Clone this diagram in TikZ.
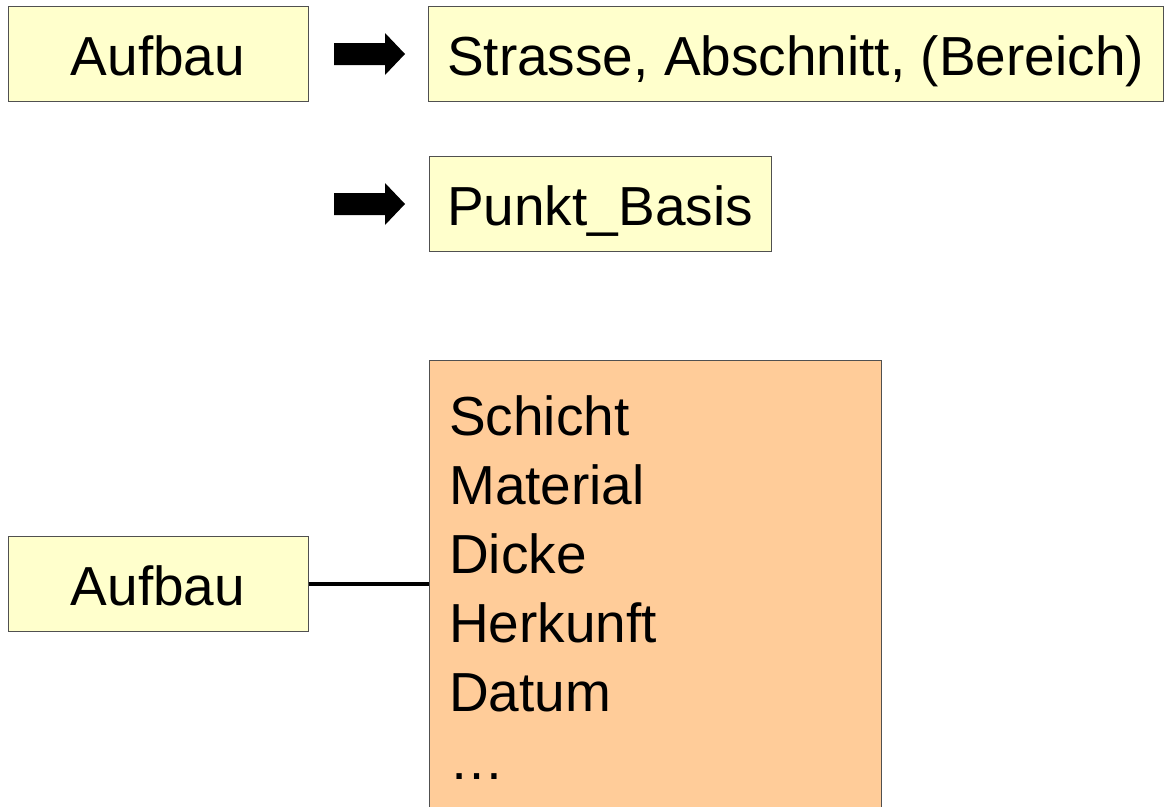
\documentclass[tikz,border=0pt]{standalone}
\usepackage{fontspec}
\setmainfont{Liberation Sans}
\definecolor{boxyellow}{HTML}{FFFFCC}
\definecolor{boxorange}{HTML}{FFCC99}
\definecolor{boxline}{HTML}{505050}
\begin{document}
\begin{tikzpicture}[x=1pt,y=-1pt,
  bigtext/.style={font=\fontsize{55}{70}\selectfont},
  ybox/.style={draw=boxline, line width=1pt, fill=boxyellow, rectangle, inner sep=0pt, bigtext, text height=43pt, text depth=0pt},
  fatarrow/.style={fill=black},
  listline/.style={bigtext, anchor=base west, inner sep=0pt}]
\useasboundingbox (0,0) rectangle (1166,806);
% top row
\node[ybox, minimum width=300pt, minimum height=95pt] (aufbau1) at (158,53.5) {Aufbau};
\node[ybox, minimum width=735pt, minimum height=95pt] (strasse) at (795.5,53.5) {Strasse, Abschnitt, (Bereich)};
\node[ybox, minimum width=342pt, minimum height=95pt] (punkt) at (600,203.5) {Punkt\_Basis};
% arrows
\coordinate (a1) at (334,54);
\coordinate (a2) at (334,204);
\foreach \c in {a1,a2}{
  \fill[fatarrow] ([shift={(0,-11)}]\c) -- ++(51,0) -- ++(0,-10) -- ++(20,21) -- ++(-20,21) -- ++(0,-10) -- ++(-51,0) -- cycle;
}
% lower part
\node[ybox, minimum width=300pt, minimum height=95pt] (aufbau2) at (158,584) {Aufbau};
\node[draw=boxline, line width=1pt, fill=boxorange, rectangle, inner sep=0pt, minimum width=452pt, minimum height=470pt, anchor=north west] (attr) at (429,360) {};
\node[listline] (l1) at (449,435) {Schicht};
\node[listline] (l2) at (449,504) {Material};
\node[listline] (l3) at (449,573) {Dicke};
\node[listline] (l4) at (449,642) {Herkunft};
\node[listline] (l5) at (449,711) {Datum};
\node[listline] (l6) at (449,779) {\dots};
\draw[line width=4pt] (aufbau2.east) -- (aufbau2.east -| attr.west);
\end{tikzpicture}
\end{document}
